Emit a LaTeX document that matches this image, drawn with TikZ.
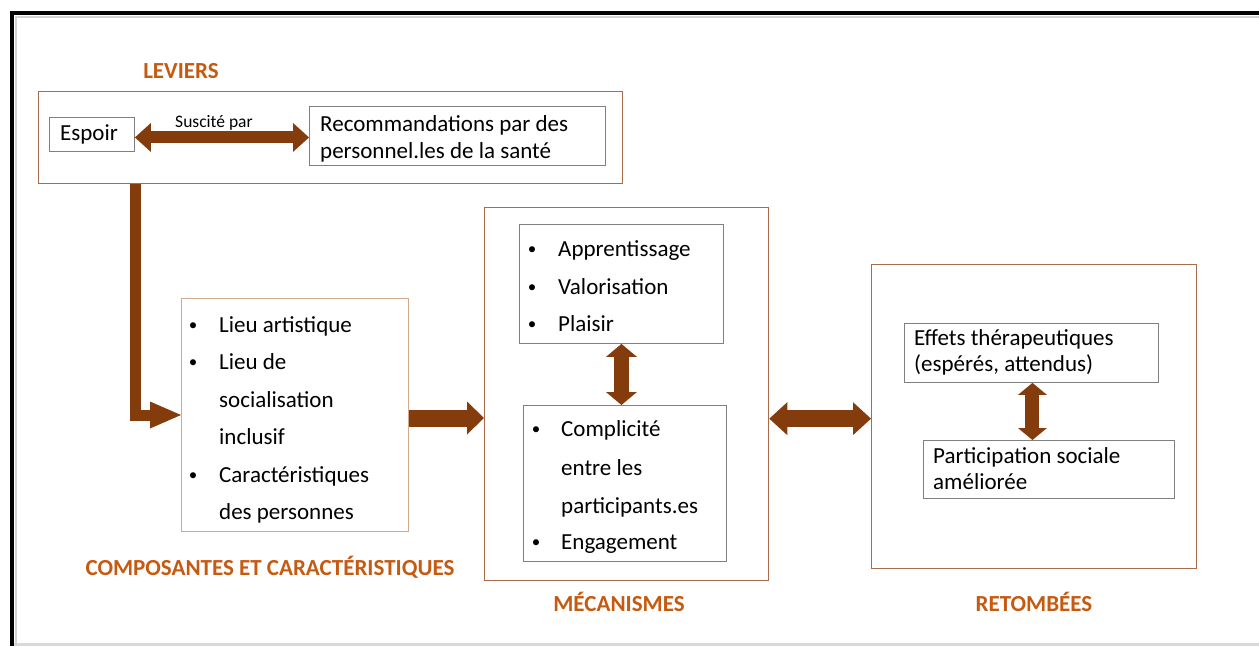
\documentclass[tikz,border=0pt]{standalone}
\usepackage{fontspec}
\setmainfont{Carlito}
\usetikzlibrary{arrows.meta,calc}
\definecolor{ttlorange}{RGB}{197,90,17}
\definecolor{arrbrown}{RGB}{132,60,12}
\definecolor{boxbrown}{RGB}{168,108,76}
\definecolor{boxlight}{RGB}{212,168,140}
\definecolor{boxgrey}{RGB}{128,128,128}

\begin{document}
\begin{tikzpicture}[x=1pt,y=-1pt,
    txt/.style={inner sep=0pt,anchor=base west,font=\fontsize{23}{27}\selectfont},
    bul/.style={inner sep=0pt,anchor=base,yshift=2pt,font=\fontsize{17}{20}\selectfont},
    ttl/.style={inner sep=0pt,anchor=base,text=ttlorange,font=\fontsize{23}{27}\selectfont\bfseries},
    bx/.style={draw=boxbrown,line width=1.3pt,anchor=north west,inner sep=0pt},
    ibx/.style={draw=boxgrey,line width=0.9pt,anchor=north west,inner sep=0pt}]
  \useasboundingbox (0,0) rectangle (1259,646);
  % page frame
  \draw[gray!30,line width=3pt] (14,644.5) -- (1259,644.5);
  \draw[gray!35,line width=2pt] (15.5,646) -- (15.5,16.5) -- (1259,16.5);
  \draw[black,line width=3.5pt] (12,646) -- (12,13) -- (1259,13);
  % leviers
  \node[ttl] (tlev) at (181,78.5) {LEVIERS};
  \node[bx,minimum width=584pt,minimum height=92pt] (leviers) at (38,91) {};
  \node[ibx,minimum width=85pt,minimum height=34pt] (espoir) at (49,117) {};
  \node[txt] (tesp) at (60,140) {Espoir};
  \node[ibx,minimum width=296pt,minimum height=59pt] (recom) at (309,106) {};
  \node[txt] (trecA) at (320,131) {Recommandations par des};
  \node[txt] (trecB) at (320,158) {personnel.les de la santé};
  \node[inner sep=0pt,anchor=base,font=\fontsize{17.5}{20}\selectfont] (susc) at (214,127) {Suscité par};
  % composantes
  \node[bx,draw=boxlight,line width=1pt,minimum width=227pt,minimum height=233pt] (compo) at (181,298) {};
  \node[bul] (bcA) at (193,332) {•};
  \node[txt] (tcA) at (219,332) {Lieu artistique};
  \node[bul] (bcB) at (193,369.5) {•};
  \node[txt] (tcB) at (219,369.5) {Lieu de};
  \node[txt] (tcC) at (219,407) {socialisation};
  \node[txt] (tcD) at (219,444.5) {inclusif};
  \node[bul] (bcE) at (193,482) {•};
  \node[txt] (tcE) at (219,482) {Caractéristiques};
  \node[txt] (tcF) at (219,519.5) {des personnes};
  \node[ttl] (tcomp) at (270,575) {COMPOSANTES ET CARACTÉRISTIQUES};
  % mecanismes
  \node[bx,minimum width=284pt,minimum height=373pt] (meca) at (484,207) {};
  \node[ibx,minimum width=204pt,minimum height=119pt] (mtop) at (519,224) {};
  \node[bul] (bmA) at (532,256) {•};
  \node[txt] (tmA) at (558,256) {Apprentissage};
  \node[bul] (bmB) at (532,294) {•};
  \node[txt] (tmB) at (558,294) {Valorisation};
  \node[bul] (bmC) at (532,331.7) {•};
  \node[txt] (tmC) at (558,331.7) {Plaisir};
  \node[ibx,minimum width=203pt,minimum height=156pt] (mbot) at (523,405) {};
  \node[bul] (bmD) at (536,436.7) {•};
  \node[txt] (tmD) at (561,436.7) {Complicité};
  \node[txt] (tmE) at (561,475) {entre les};
  \node[txt] (tmF) at (561,513) {participants.es};
  \node[bul] (bmG) at (536,549) {•};
  \node[txt] (tmG) at (561,549) {Engagement};
  \node[ttl] (tmeca) at (619,611.7) {MÉCANISMES};
  % retombees
  \node[bx,minimum width=325pt,minimum height=304pt] (retom) at (871,264) {};
  \node[ibx,minimum width=254pt,minimum height=59pt] (effets) at (904,323) {};
  \node[txt] (teffA) at (914,345) {Effets thérapeutiques};
  \node[txt] (teffB) at (914,371.7) {(espérés, attendus)};
  \node[ibx,minimum width=251pt,minimum height=58pt] (partic) at (923,440) {};
  \node[txt] (tparA) at (933,463) {Participation sociale};
  \node[txt] (tparB) at (933,489) {améliorée};
  \node[ttl] (tret) at (1034,611.7) {RETOMBÉES};
  % block arrows
  \draw[arrbrown,line width=12pt,{Triangle[length=16pt,width=29pt,line width=0pt]}-{Triangle[length=16pt,width=29pt,line width=0pt]}]
    ($(espoir.east)+(0,3)$) -- ($(espoir.east -| recom.west)+(0,3)$);
  \draw[arrbrown,line width=11pt,-{Triangle[length=31pt,width=27pt,line width=0pt]}]
    ($(leviers.south west)+(97,0)$) |- (compo.west);
  \draw[arrbrown,line width=17pt,-{Triangle[length=17pt,width=33pt,line width=0pt]}]
    ($(compo.east)+(0,3)$) -- ($(compo.east -| meca.west)+(0,3)$);
  \draw[arrbrown,line width=17pt,{Triangle[length=18pt,width=33pt,line width=0pt]}-{Triangle[length=18pt,width=33pt,line width=0pt]}]
    ($(retom.west -| meca.east)+(0,2)$) -- ($(retom.west)+(0,2)$);
  \draw[arrbrown,line width=15pt,{Triangle[length=13pt,width=31pt,line width=0pt]}-{Triangle[length=13pt,width=31pt,line width=0pt]}]
    (mtop.south) -- (mtop.south |- mbot.north);
  \draw[arrbrown,line width=14pt,{Triangle[length=12pt,width=29pt,line width=0pt]}-{Triangle[length=12pt,width=29pt,line width=0pt]}]
    ($(effets.south)+(1,0)$) -- ($(effets.south |- partic.north)+(1,0)$);
\end{tikzpicture}
\end{document}
